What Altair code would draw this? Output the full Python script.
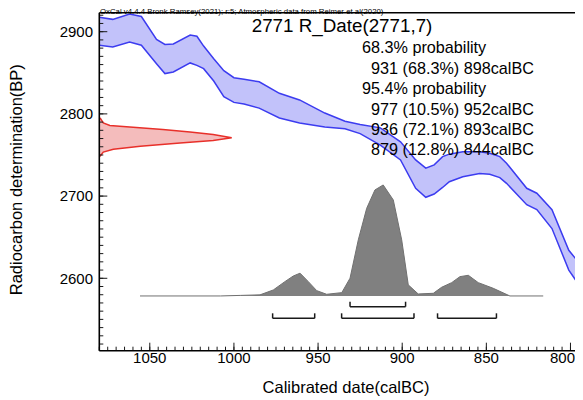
import altair as alt
import pandas as pd

# ---------------- data ----------------
# Calibration curve band (IntCal20), cal BC vs radiocarbon BP
cal_year = [1080, 1072, 1062, 1055, 1046, 1041, 1036, 1026, 1022, 1018, 1012, 1006, 1000, 994, 985,
            973, 961, 946, 934, 925, 913, 901, 892, 886, 881, 876, 872, 864, 854, 848, 842, 838,
            826, 820, 811, 801, 793, 787]
cal_upper = [2917.5, 2915, 2921.5, 2918.5, 2890.5, 2884.5, 2885, 2896, 2894.5, 2882.5, 2867, 2852.5,
             2844, 2842, 2839, 2825, 2817, 2801, 2791, 2787, 2783, 2766, 2744, 2734, 2738, 2748,
             2751, 2754, 2754, 2752, 2748, 2740, 2709.5, 2703.5, 2683.5, 2634, 2614, 2602]
cal_lower = [2883.5, 2881.5, 2887.5, 2883.5, 2861, 2849, 2851, 2862, 2859, 2855, 2840, 2821,
             2814, 2812, 2807, 2795, 2789, 2784, 2782, 2776, 2762, 2744, 2709.5, 2698.5, 2702.5,
             2710.5, 2717.5, 2723.5, 2727.5, 2726.5, 2722.5, 2715.5, 2689.5, 2683.5, 2660.5, 2610,
             2586, 2572]

# Radiocarbon measurement 2771 +/- 7 BP (relative density)
rd_bp = [2795.5, 2794, 2789, 2786, 2784, 2781, 2778, 2775, 2771, 2767.5, 2764.5, 2760.5, 2757,
         2753.5, 2749.5, 2748]
rd_dens = [0.0, 0.01, 0.03, 0.08, 0.23, 0.48, 0.685, 0.86, 1.0, 0.86, 0.61, 0.31, 0.106, 0.03,
           0.01, 0.0]

# Calibrated posterior (relative probability)
post_year = [1055.8, 1008, 996, 984.5, 976.6, 969.7, 964.7, 960.7, 955.8, 950.8, 944.9, 935.9,
             931, 926.1, 921.1, 916.2, 911.3, 905.3, 900.3, 896.4, 890.5, 881.5, 876.6, 870.6,
             865.7, 860.7, 854.8, 845.9, 836, 816.2]
post_prob = [0, 0, 0.005, 0.01, 0.054, 0.129, 0.18, 0.205, 0.129, 0.048, 0.015, 0.03, 0.16, 0.505,
             0.79, 0.955, 1.0, 0.865, 0.505, 0.1, 0.018, 0.024, 0.078, 0.12, 0.174, 0.186, 0.12,
             0.069, 0, 0]

# Highest probability ranges
r68_from, r68_to, r68_pct = [931], [898], [68.3]
r95_from, r95_to, r95_pct = [977, 936, 879], [952, 893, 844], [10.5, 72.1, 12.8]

x_major = [800, 850, 900, 950, 1000, 1050]
x_minor = list(range(800, 1081, 5))
y_major = [2600, 2700, 2800, 2900]
y_minor = list(range(2520, 2921, 10))

title_txt = "OxCal v4.4.4 Bronk Ramsey(2021); r:5; Atmospheric data from Reimer et al(2020)"
date_txt = "2771 R_Date(2771,7)"
x_title = "Calibrated date(calBC)"
y_title = "Radiocarbon determination(BP)"

# ---------------- layout / style ----------------
W, H = 475.7, 338
PX_PER_YEAR = 1.6828
PX_PER_BP = 0.822
X_DOM = [1080, 1080 - W / PX_PER_YEAR]
Y_DOM = [2511.9, 2923.1]
RED_W_YEARS = 132.4 / PX_PER_YEAR        # drawn width of the measurement peak
GREY_BASE = 2578.5                       # baseline of the calibrated distribution
GREY_SPAN = 111 / PX_PER_BP              # drawn height of its peak
BR_LEVEL = {1: 2565.4, 2: 2551.3}        # vertical places of the range brackets
FONT = "Liberation Sans"
BLUE = "#3c3cf0"
BAND = "#c2c2fa"
RED = "#e8302a"
RED_FILL = "#f4bcbc"
GREY = "#808080"
INK = "#1a1a1a"

xs = alt.Scale(domain=X_DOM, nice=False, zero=False)
ys = alt.Scale(domain=Y_DOM, nice=False, zero=False)

cal = pd.DataFrame({"year": cal_year, "upper": cal_upper, "lower": cal_lower})

band = alt.Chart(cal).mark_area(color=BAND, opacity=1, clip=True).encode(
    x=alt.X("year:Q", scale=xs, axis=None),
    y=alt.Y("upper:Q", scale=ys, axis=None),
    y2="lower:Q",
)
up_line = alt.Chart(cal).mark_line(color=BLUE, strokeWidth=1.5, clip=True).encode(
    x=alt.X("year:Q", scale=xs, axis=None), y=alt.Y("upper:Q", scale=ys, axis=None))
lo_line = alt.Chart(cal).mark_line(color=BLUE, strokeWidth=1.5, clip=True).encode(
    x=alt.X("year:Q", scale=xs, axis=None), y=alt.Y("lower:Q", scale=ys, axis=None))

# axes drawn from the tick values through the scales
def xticks(vals, length):
    return alt.Chart(pd.DataFrame({"t": vals})).mark_rule(color=INK, strokeWidth=1).encode(
        x=alt.X("t:Q", scale=xs, axis=None), y=alt.value(H), y2=alt.value(H - length))

def yticks(vals, length):
    return alt.Chart(pd.DataFrame({"t": vals})).mark_rule(color=INK, strokeWidth=1).encode(
        y=alt.Y("t:Q", scale=ys, axis=None), x=alt.value(0), x2=alt.value(length))

xlab_data = pd.DataFrame({"t": x_major})
x_labels = alt.Chart(xlab_data).transform_filter(f"datum.t > {X_DOM[1] + 10}").mark_text(
    font=FONT, fontSize=15, color="black", align="center", baseline="alphabetic"
).encode(x=alt.X("t:Q", scale=xs, axis=None), y=alt.value(H + 12.6),
         text=alt.Text("t:Q", format="d"))
# the last label sits flush with the right edge so it is not cut
x_label_end = alt.Chart(xlab_data).transform_filter(f"datum.t <= {X_DOM[1] + 10}").mark_text(
    font=FONT, fontSize=15, color="black", align="right", baseline="alphabetic", dx=4.5
).encode(x=alt.X("t:Q", scale=xs, axis=None), y=alt.value(H + 12.6),
         text=alt.Text("t:Q", format="d"))
y_labels = alt.Chart(pd.DataFrame({"t": y_major})).mark_text(
    font=FONT, fontSize=15, color="black", align="right", baseline="alphabetic", dy=5.4
).encode(y=alt.Y("t:Q", scale=ys, axis=None), x=alt.value(-6.3),
         text=alt.Text("t:Q", format="d"))

frame = pd.DataFrame({"t": [0]})
top_line = alt.Chart(frame).mark_rule(color="black", strokeWidth=1.4).encode(
    x=alt.value(0), x2=alt.value(W), y=alt.value(0))
left_line = alt.Chart(frame).mark_rule(color="black", strokeWidth=1.6).encode(
    x=alt.value(0), y=alt.value(0), y2=alt.value(H))
bottom_line = alt.Chart(frame).mark_rule(color="black", strokeWidth=1.6).encode(
    x=alt.value(0), x2=alt.value(W), y=alt.value(H))

# red radiocarbon distribution along the y axis
red = pd.DataFrame({"bp": rd_bp, "dens": rd_dens})
red_base = alt.Chart(red).transform_calculate(
    yr=f"{X_DOM[0]} - datum.dens * {RED_W_YEARS}", base=f"{X_DOM[0]}")
red_area = red_base.mark_area(orient="horizontal", color=RED_FILL, opacity=1).encode(
    x=alt.X("yr:Q", scale=xs, axis=None), x2="base:Q", y=alt.Y("bp:Q", scale=ys, axis=None))
red_line = red_base.mark_line(color=RED, strokeWidth=1.5).encode(
    x=alt.X("yr:Q", scale=xs, axis=None), y=alt.Y("bp:Q", scale=ys, axis=None),
    order=alt.Order("bp:Q"))

# grey calibrated distribution
post = pd.DataFrame({"year": post_year, "prob": post_prob})
post_base = alt.Chart(post).transform_calculate(
    bp=f"{GREY_BASE} + datum.prob * {GREY_SPAN}", base=f"{GREY_BASE}")
grey_area = post_base.mark_area(color=GREY, opacity=1).encode(
    x=alt.X("year:Q", scale=xs, axis=None), y=alt.Y("bp:Q", scale=ys, axis=None), y2="base:Q")
grey_line = post_base.mark_line(color="#707070", strokeWidth=1).encode(
    x=alt.X("year:Q", scale=xs, axis=None), y=alt.Y("bp:Q", scale=ys, axis=None))

# range brackets
br = pd.DataFrame({
    "start": r68_from + r95_from,
    "end": r68_to + r95_to,
    "level": [1] * len(r68_from) + [2] * len(r95_from),
})
br_base = alt.Chart(br).transform_calculate(
    lv=f"datum.level == 1 ? {BR_LEVEL[1]} : {BR_LEVEL[2]}")
hbar = br_base.mark_rule(color=INK, strokeWidth=1.5).encode(
    x=alt.X("start:Q", scale=xs, axis=None), x2="end:Q",
    y=alt.Y("lv:Q", scale=ys, axis=None))
ltick = br_base.mark_rule(color=INK, strokeWidth=1.5, y2Offset=-5).encode(
    x=alt.X("start:Q", scale=xs, axis=None),
    y=alt.Y("lv:Q", scale=ys, axis=None), y2="lv:Q")
rtick = br_base.mark_rule(color=INK, strokeWidth=1.5, y2Offset=-5).encode(
    x=alt.X("end:Q", scale=xs, axis=None),
    y=alt.Y("lv:Q", scale=ys, axis=None), y2="lv:Q")

# texts
def txt(s, x, y, size, font=FONT, angle=0, align="left"):
    return alt.Chart(pd.DataFrame({"label": [s]})).mark_text(
        font=font, fontSize=size, color="black", align=align, baseline="alphabetic",
        angle=angle
    ).encode(text="label:N", x=alt.value(x), y=alt.value(y))

lines = ["68.3% probability"]
lines += [f"{a} ({p}%) {b}calBC" for a, b, p in zip(r68_from, r68_to, r68_pct)]
lines += ["95.4% probability"]
lines += [f"{a} ({p}%) {b}calBC" for a, b, p in zip(r95_from, r95_to, r95_pct)]
line_y = [40.3, 60.8, 81.3, 101.8, 122.3, 142.3]
texts = [
    txt(title_txt, 0.7, 1.0, 7.8),
    txt(date_txt, 152.4, 18.8, 18.8),
    txt(x_title, 246.7, 379.8, 16.5, align="center"),
    txt(y_title, -77, 167, 16.5, angle=270, align="center"),
]
for s, yy in zip(lines, line_y):
    xx = 262.7 if "probability" in s else 271.7
    texts.append(txt(s, xx, yy, 16.2))

chart = alt.layer(
    band, up_line, lo_line,
    grey_area, grey_line,
    hbar, ltick, rtick,
    red_area, red_line,
    xticks(x_minor, 4), xticks(x_major, 8), yticks(y_minor, 4), yticks(y_major, 8),
    top_line, left_line, bottom_line, x_labels, x_label_end, y_labels,
    *texts,
).properties(
    width=W, height=H,
    padding={"left": 91.3, "top": 4.7, "right": 0, "bottom": 49.3},
    autosize=alt.AutoSizeParams(type="none"),
).configure_view(strokeWidth=0)

chart.save("out.html", embed_options={"renderer": "svg", "actions": False})
